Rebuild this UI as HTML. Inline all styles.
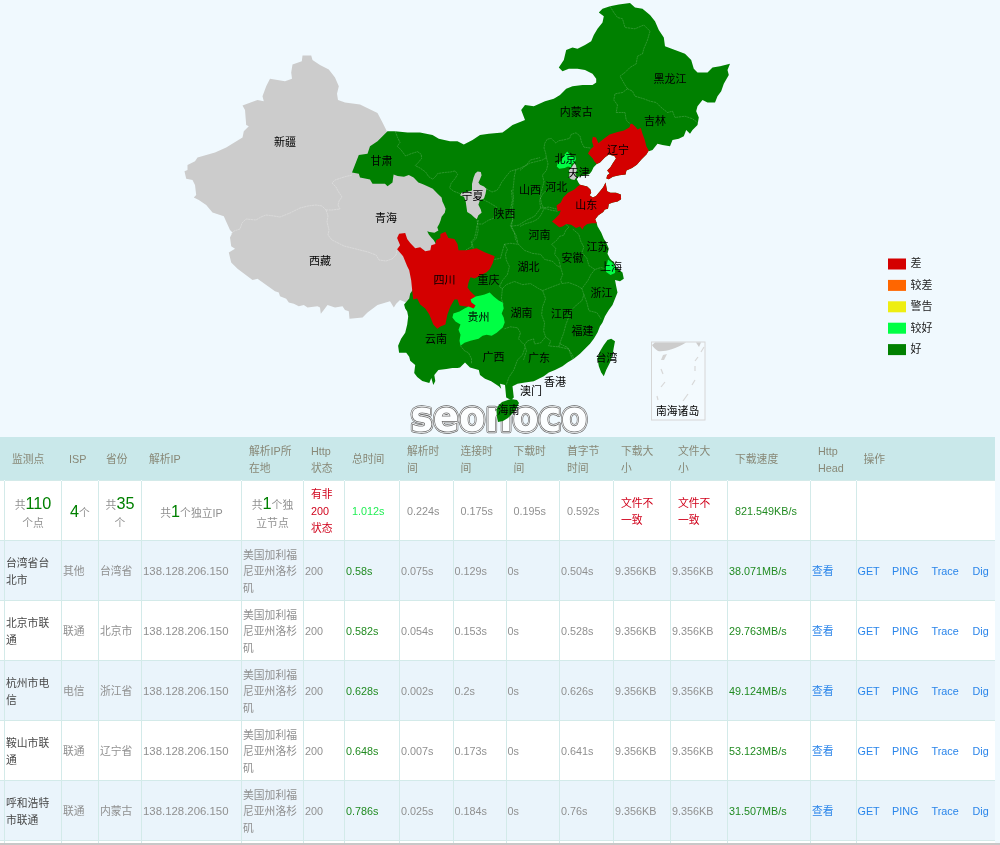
<!DOCTYPE html>
<html lang="zh"><head><meta charset="utf-8"><title>seonoco</title>
<style>
html,body{margin:0;padding:0}
body{width:1000px;height:845px;overflow:hidden;position:relative;background:#f0f9fe;font-family:"Liberation Sans","Noto Sans CJK SC",sans-serif;font-size:10.8px;color:#909090}
svg{position:absolute;left:0;top:0}
svg text{font-family:"Liberation Sans","Noto Sans CJK SC",sans-serif;font-size:11px;fill:#000}
.hb{position:absolute;left:0;top:437px;width:995px;height:43px;background:#c9e8ea}
.rb{position:absolute;left:0;width:995px;height:60px}
table{position:absolute;left:-1px;top:437px;border-collapse:collapse;table-layout:fixed;width:995px}
td,th{border-left:1px solid #d3eae9;border-top:1px solid #d3eae9;padding:0 3px 0 1px;box-sizing:border-box;overflow:hidden;font-weight:normal;text-align:left;line-height:16.75px;vertical-align:middle}
tr.h th:first-child{padding:0}
tr.h th{height:43px;padding:2.5px 7px 0;border-top:none;border-left-color:transparent;color:#888877}
tr.s td{height:60px;text-align:left;padding:3px 7px 0;background:#fff;white-space:nowrap}
tr.s td.c{text-align:center;padding:3px 0 0}
tr.s td.r{text-align:left}
tr.d td{height:60px;background:#fff;padding-top:3.5px}
tr.d.a td{background:#eaf4fb}
b{font-weight:normal;font-size:16.2px;color:#008000;line-height:23px}
.ip{font-size:11.4px}
.r{color:#d0021b} .g{color:#228B22} .lg{color:#22ee55} .n{color:#484848} .l{color:#2a85ea}
.z{padding:0 !important}
.ops span{display:inline-block}
.ops span:nth-child(1){width:34.5px} .ops span:nth-child(2){width:39.5px} .ops span:nth-child(3){width:41px}
.bot{position:absolute;left:0;top:843px;width:1000px;height:2px;background:#c8c8c8}
</style></head><body>
<svg width="1000" height="437" viewBox="0 0 1000 437">
<g>
<text x="410.5" y="431" textLength="177" lengthAdjust="spacingAndGlyphs" style="font-family:'DejaVu Sans',sans-serif;font-weight:bold;font-size:43px;fill:none;stroke:#666;stroke-width:4.4px;stroke-linejoin:round">seonoco</text>
<text x="410.5" y="431" textLength="177" lengthAdjust="spacingAndGlyphs" style="font-family:'DejaVu Sans',sans-serif;font-weight:bold;font-size:43px;fill:none;stroke:#fcfeff;stroke-width:3.0px;stroke-linejoin:round">seonoco</text>
<text x="410.5" y="431" textLength="177" lengthAdjust="spacingAndGlyphs" style="font-family:'DejaVu Sans',sans-serif;font-weight:bold;font-size:43px;fill:none;stroke:#666;stroke-width:1.5px;stroke-linejoin:round">seonoco</text>
<text x="410.5" y="431" textLength="177" lengthAdjust="spacingAndGlyphs" style="font-family:'DejaVu Sans',sans-serif;font-weight:bold;font-size:43px;fill:#fcfeff;stroke:none;stroke-width:0;stroke-linejoin:round">seonoco</text>
</g>
<path fill="#cccccc" d="M302.5,55.5 311.2,55.5 312.5,60.0 320.0,65.0 328.8,69.5 335.0,77.5 338.8,86.2 337.0,93.8 338.0,100.0 345.0,102.5 360.0,104.5 377.5,113.0 382.5,122.5 387.5,132.5 395,150 440,170 462,200 460,260 420,290 410,300 406.2,302.5 400.0,300.0 396.2,303.8 393.8,307.5 390.0,301.2 377.5,305.0 367.5,312.5 362.5,317.5 349.5,318.8 348.8,311.2 345.0,310.0 342.5,306.2 335.0,307.5 327.5,305.0 323.8,310.0 320.8,313.8 320.0,307.5 317.5,306.2 307.5,307.5 303.8,305.0 298.8,306.2 293.8,303.8 288.8,302.5 286.2,298.8 280.0,296.2 278.8,292.5 275.0,291.2 257.5,278.8 252.5,280.0 237.5,268.8 231.2,262.5 228.8,252.5 235.0,248.8 231.2,246.2 230.0,237.5 232.5,232.5 230.0,230.0 223.8,216.2 212.5,212.5 206.2,205.0 198.8,200.0 193.8,197.5 196.2,195.0 195.0,185.0 192.5,180.0 186.2,178.8 184.5,171.2 187.5,170.0 187.5,165.0 195.0,161.2 197.5,157.5 215.0,152.5 226.2,147.5 242.5,137.5 243.8,131.2 248.8,126.2 246.2,125.0 245.0,110.0 242.5,105.5 257.5,100.0 263.8,101.2 262.5,96.2 266.2,86.2 270.0,78.8 285.0,81.2 292.0,78.8 291.2,72.5 292.5,64.5 301.8,61.2Z"/>
<path fill="#008000" d="M382.5,136.2 387.5,131.2 395.0,131.2 407.5,132.5 420.0,132.5 432.5,135.0 438.8,138.8 450.0,141.2 457.5,141.2 463.8,144.5 472.5,140.0 480.0,135.0 488.8,133.8 502.5,132.5 512.5,125.0 518.8,122.5 525.0,120.0 521.2,110.0 525.0,105.0 533.8,106.2 545.0,101.2 553.8,98.8 560.0,95.0 566.2,88.8 572.5,86.2 582.5,85.0 592.5,85.0 596.2,82.5 596.2,78.8 592.5,73.8 585.0,70.0 577.5,68.8 568.8,68.8 562.5,71.2 558.8,67.5 563.8,60.0 566.2,50.0 572.5,47.5 577.5,48.8 585.0,45.0 591.2,41.2 593.8,35.0 597.5,28.8 602.5,22.5 603.8,16.2 598.8,12.5 602.5,8.8 610.0,6.2 618.8,4.5 630.0,3.0 635.0,7.5 642.5,8.8 650.0,15.0 655.0,21.2 658.8,30.0 663.8,37.5 665.0,46.2 675.0,50.0 685.0,53.8 691.2,60.0 693.8,68.8 697.5,72.5 707.5,72.5 712.5,67.5 720.0,66.2 730.0,63.8 727.5,70.0 728.8,75.0 723.8,83.8 721.2,91.2 717.5,96.2 715.0,102.5 707.5,102.5 702.5,100.0 697.5,106.2 696.2,111.2 698.8,117.5 697.5,125.0 692.5,130.0 690.0,133.8 686.2,130.0 683.8,136.2 678.8,138.8 672.5,140.0 670.0,146.2 662.5,145.0 657.5,143.8 652.5,150.0 648.8,151.2 648.8,150.4 646.4,154.4 641.6,159.2 636.8,164.8 632.0,168.0 626.4,170.4 625.6,174.4 619.2,175.2 612.8,176.8 608.8,179.2 606.4,178.4 607.2,175.2 609.6,173.6 607.2,170.4 610.4,167.2 612.8,163.2 616.0,158.4 614.4,156.0 608.8,154.4 604.8,157.6 600.0,162.4 596.8,164.0 593.6,167.2 591.7,171.2 589.6,173.9 584.0,175.5 578.4,176.8 576.8,179.2 578.4,182.4 580.0,184.8 587.2,186.4 590.4,189.6 591.2,192.8 589.6,195.2 592.8,197.6 596.0,196.0 600.0,191.2 603.2,187.2 605.6,182.4 606.4,187.2 607.2,191.2 610.4,192.8 616.0,192.8 620.8,194.4 621.1,199.2 617.6,201.6 612.8,202.4 608.8,204.0 608.0,208.8 604.8,209.6 603.2,212.0 598.4,215.2 595.2,219.2 596.8,223.2 597.5,226.2 601.2,232.5 603.8,238.8 606.2,242.5 608.8,248.8 607.5,253.8 610.0,258.8 613.8,262.5 616.2,267.5 622.5,272.5 623.8,278.8 620.0,281.2 615.0,280.0 616.2,286.2 617.5,292.5 615.0,298.8 612.5,305.0 608.8,310.0 605.0,316.2 602.5,322.5 600.0,326.2 597.5,332.5 593.8,338.8 590.0,343.8 585.0,348.8 580.0,353.8 573.8,358.8 567.5,362.5 562.5,366.2 555.0,370.0 548.8,372.5 543.8,376.2 538.8,378.8 533.8,381.2 525.0,382.5 517.5,383.8 512.5,386.2 513.8,397.5 511.2,400.0 506.2,397.5 505.0,385.0 500.0,383.8 501.2,388.8 498.8,386.2 491.2,381.2 485.0,378.8 480.0,375.0 478.8,370.0 470.0,367.5 465.0,362.5 460.0,367.5 457.5,367.9 452.4,367.9 446.4,368.9 438.4,369.9 434.3,374.9 435.3,381.0 433.3,385.0 431.3,377.9 429.3,383.0 422.3,381.0 417.2,376.9 414.2,372.9 415.2,364.9 410.2,360.8 409.2,356.8 406.2,352.8 399.1,352.8 398.1,345.8 401.1,338.7 405.2,332.7 407.2,324.6 408.2,316.6 407.2,311.5 405.2,308.5 404.1,304.5 409.2,298.5 410.2,293.4 420,280 440,250 436.0,244.0 433.6,240.0 431.2,237.6 428.8,234.4 427.2,231.2 429.6,232.0 434.4,232.8 438.4,230.4 437.3,227.2 439.2,224.0 440.5,220.8 441.6,216.8 444.8,212.8 445.6,208.8 444.0,204.8 442.4,201.6 441.6,197.6 438.4,194.4 435.2,191.2 432.8,188.8 428.0,186.4 422.4,184.0 418.4,182.4 413.6,177.6 408.8,174.9 404.0,176.8 397.6,176.0 393.6,174.4 392.5,182.5 387.5,186.2 385.0,183.8 372.5,183.8 370.0,179.5 360.0,177.5 358.8,173.8 352.0,172.5 358.8,155.0 367.5,153.8 370.0,146.2 377.5,141.2Z"/>
<path fill="#008000" d="M611.2,338.8 615.0,341.2 613.8,347.5 612.5,355.0 610.0,362.5 606.2,370.0 603.8,376.2 601.2,372.5 598.8,366.2 597.5,358.8 600.0,351.2 603.8,345.0 607.5,340.0Z"/>
<path fill="#008000" d="M502.0,402.0 511.0,399.0 517.0,400.0 519.0,403.0 516.0,409.0 513.0,413.0 508.0,418.0 503.0,421.0 498.0,422.0 497.0,417.0 496.4,410.0 498.0,406.0Z"/>
<g fill="none" stroke="#ffffff" stroke-opacity="0.22" stroke-width="0.8" stroke-dasharray="2.2 0.6"><path d="M395.2,131.2 397.6,137.6 400.0,142.4 397.3,146.4 400.8,149.6 405.6,156.0 411.2,153.6 417.6,151.7 421.3,154.4 421.6,158.4 418.4,162.4 415.2,165.6 420.0,168.0 425.6,172.0 428.8,176.8 432.8,179.2 436.0,176.0 437.6,173.6 444.0,172.5 450.4,172.0 455.2,170.9 457.6,174.4 455.2,178.4 451.2,183.2 449.6,188.0 453.6,191.2 460.0,193.6"/><path d="M486.4,188.8 492.0,192.0 496.8,190.4 499.2,187.2 501.6,182.4 506.4,176.0 510.4,171.2 516.0,169.6 520.8,168.0 526.4,164.8 530.4,160.0 540.0,157.6"/><path d="M516.0,169.6 514.4,176.0 513.6,184.0 512.8,192.0 513.6,196.8 512.8,204.8 512.0,212.8 512.8,219.2 510.4,225.6 512.8,230.4 516.0,235.2 517.6,241.6"/><path d="M480.8,198.4 488.8,202.4 496.8,207.2"/><path d="M478.4,220.0 477.6,224.0 482.4,224.0 488.8,220.0 493.6,218.4 496.8,207.2"/><path d="M476.8,225.6 476.0,232.0 474.4,238.4 471.2,241.6 472.0,246.4 466.4,249.6 464.8,251.2"/><path d="M477.2,220.2 478.2,230.2 476.2,238.3 472.2,242.3 473.2,248.4"/><path d="M511.4,190.0 512.4,200.1 510.4,210.1 513.4,216.2 511.4,226.2 514.4,232.3 515.5,239.3 518.5,244.3"/><path d="M511.4,226.2 518.5,225.2 526.5,220.2 534.6,216.2 540.6,208.1 548.7,207.1 556.7,209.1"/><path d="M540.6,208.1 539.6,200.1 542.6,194.0 546.6,190.0"/><path d="M504.4,244.3 510.4,243.3 518.5,244.3 524.5,250.4 532.6,253.4 540.6,254.4 544.6,259.4 552.7,261.4 556.7,265.5 560.7,267.5"/><path d="M494.3,259.4 500.4,258.4 504.4,244.3"/><path d="M504.4,244.3 507.4,249.4 505.4,254.4 506.4,260.4 509.4,266.5 507.4,274.5 502.4,280.5 499.4,286.6 502.4,288.6"/><path d="M502.4,288.6 506.4,284.6 514.4,281.5 522.5,284.6 530.5,283.6 538.6,288.6 542.6,290.6 552.7,286.6 560.7,283.6"/><path d="M560.7,267.5 562.7,274.5 560.7,279.5 561.7,283.6 568.8,282.6 576.8,285.6 581.9,288.6"/><path d="M565.8,224.2 568.8,227.2 565.8,230.2 563.7,235.3 559.7,236.3 556.7,240.3 551.7,244.3 555.7,248.4 554.7,254.4 558.7,259.4 560.7,267.5"/><path d="M572.8,229.2 578.8,234.3 580.8,241.3 583.9,247.3 581.9,252.4 586.9,258.4 588.9,265.5 594.9,269.5 601.0,267.5 607.0,269.5"/><path d="M594.9,269.5 590.9,274.5 587.9,280.5 581.9,288.6 583.9,294.6 581.9,300.7 576.8,304.7 570.8,310.7 568.8,316.8 565.8,324.8 563.7,332.9 560.7,340.9 558.7,346.9"/><path d="M583.9,294.6 586.9,302.7 588.9,310.7 596.9,312.7 601.0,318.8"/><path d="M542.6,290.6 545.6,298.7 542.6,306.7 541.6,314.7 544.6,322.8 543.6,330.8 545.6,336.9 550.7,340.9 548.7,345.9 558.7,346.9 568.8,349.0 570.8,355.0 572.8,360.0"/><path d="M502.4,288.6 501.4,298.7 503.4,304.7"/><path d="M504.4,328.8 510.4,326.8 517.5,327.8 520.5,332.9 518.5,338.9 524.5,344.9 527.5,340.9 533.6,338.9 534.6,343.9 540.6,342.9 545.6,336.9"/><path d="M524.5,344.9 526.5,351.0 523.5,360.0"/><path d="M525.0,347.5 522.5,355.0 517.5,360.0 513.8,370.0 508.8,377.5 506.2,385.0"/><path d="M560.0,343.8 567.5,347.5 572.5,355.0 573.8,358.8"/><path d="M460.5,345.8 464.5,350.8 468.5,352.8 471.5,358.8 471.5,363.9"/><path d="M610.0,6.2 613.8,12.5 617.5,17.5 622.5,18.8 625.0,27.5 635.0,28.8 643.8,25.0 650.0,31.2 647.5,40.0 643.8,48.8 642.5,53.8 637.5,56.2 636.2,63.8 630.0,67.5 625.0,72.5 620.0,76.2 625.0,85.0 627.5,88.8"/><path d="M627.5,88.8 632.5,91.2 635.0,96.2 643.8,98.8 650.0,101.2 656.2,102.5 661.2,107.5 667.5,112.5 672.5,111.2 675.0,117.5 685.0,116.2 692.5,118.8 697.5,122.5"/><path d="M627.5,88.8 622.5,92.5 615.0,93.8 613.8,100.0 617.5,105.0 616.2,112.5 625.0,112.5 626.2,120.0 630.0,123.8"/><path d="M590.4,148.0 584.0,147.2 581.6,142.4 580.0,136.0 576.0,132.8 571.2,134.4 569.6,138.4 563.2,140.0 558.4,140.8 556.0,143.2 551.2,138.4 547.2,139.2 544.8,143.2 544.0,148.0 545.6,152.8 546.4,157.6 542.4,160.0 536.0,161.6 529.6,163.2 524.8,166.4 520.0,170.4"/><path d="M546.4,157.6 548.0,164.0 546.4,170.4 542.4,175.2 544.0,181.6 542.4,188.0 540.0,196.0 541.6,204.0 544.0,208.8 540.8,215.2 537.6,219.2 532.8,221.6 524.8,224.0 520.0,226.4"/><path d="M557.6,211.2 552.0,210.4 546.4,208.8 544.0,208.8"/></g><g fill="none" stroke="#dddddd" stroke-width="0.8" stroke-dasharray="2.2 0.5"><path d="M352.0,175.0 344.0,177.0 335.0,180.0 332.0,183.0 336.0,187.0 338.0,191.0 342.0,197.0 339.0,201.0 338.0,205.0 340.0,209.0 332.0,210.0 326.0,210.0"/><path d="M326.0,210.0 322.0,206.0 316.0,205.0 308.0,206.0 300.0,208.0 296.0,210.0 290.0,213.0 280.0,217.0 274.0,216.0 266.0,215.0 261.0,217.0 256.0,220.0 246.0,219.0 242.0,223.0 240.0,229.0 234.0,231.0 231.0,234.0"/><path d="M326.0,210.0 328.0,216.0 327.0,222.0 329.0,230.0 328.0,235.0 332.0,240.0 338.0,243.0 344.0,246.0 352.0,248.0 360.0,250.0 368.0,252.0 376.0,255.0 379.0,260.0 386.0,261.0 392.0,259.0 396.0,255.0 397.0,250.0"/></g>
<path fill="#d40000" d="M399.1,233.7 405.2,233.1 407.2,239.1 410.2,243.1 415.2,248.2 420.2,247.2 425.3,251.2 430.3,250.2 431.3,245.2 435.3,244.1 436.3,240.1 440.4,238.1 440.4,234.1 445.4,231.7 448.4,238.1 454.4,239.1 457.5,244.1 458.5,250.2 466.5,250.2 476.6,248.2 484.6,252.2 494.7,256.2 492.7,263.3 489.7,269.3 486.6,272.3 480.6,275.3 474.6,278.4 470.5,277.3 468.5,282.4 467.5,287.4 470.5,291.4 475.6,296.5 470.5,299.5 471.5,302.5 475.6,305.5 473.6,308.5 466.5,306.5 459.5,305.5 457.5,299.5 454.4,299.5 450.4,306.5 447.4,314.6 445.4,324.6 440.4,326.6 437.3,328.7 433.3,324.6 429.3,314.6 425.3,308.5 420.2,304.5 417.2,298.5 413.2,299.5 412.2,290.4 411.2,280.4 409.2,270.3 407.2,266.3 403.1,256.2 397.1,249.2 400.1,245.2 397.1,238.1Z"/>
<path fill="#d40000" d="M632.0,123.7 635.2,126.4 637.6,129.6 640.8,128.0 642.4,133.6 644.8,140.0 646.4,146.4 648.8,150.4 646.4,154.4 641.6,159.2 636.8,164.8 632.0,168.0 626.4,170.4 625.6,174.4 619.2,175.2 612.8,176.8 608.8,179.2 606.4,178.4 607.2,175.2 609.6,173.6 607.2,170.4 610.4,167.2 612.8,163.2 616.0,158.4 614.4,156.0 608.8,154.4 604.8,157.6 600.0,162.4 596.8,164.0 594.4,161.6 592.8,158.4 588.0,153.6 590.4,149.6 593.6,146.4 592.0,141.6 592.8,136.8 596.0,137.6 598.4,143.2 603.2,139.2 609.6,134.4 617.6,132.0 624.0,130.4 629.6,127.2 630.4,124.0Z"/>
<path fill="#d40000" d="M580.0,184.8 587.2,186.4 590.4,189.6 591.2,192.8 589.6,195.2 592.8,197.6 596.0,196.0 600.0,191.2 603.2,187.2 605.6,182.4 606.4,187.2 607.2,191.2 610.4,192.8 616.0,192.8 620.8,194.4 621.1,199.2 617.6,201.6 612.8,202.4 608.8,204.0 608.0,208.8 604.8,209.6 603.2,212.0 598.4,215.2 595.2,219.2 596.8,223.2 592.0,223.2 587.2,224.0 584.0,226.4 582.4,229.6 580.0,226.4 576.0,228.0 571.2,224.8 566.4,224.0 562.4,226.4 559.2,227.2 555.2,224.0 552.0,221.6 555.2,218.4 559.2,214.4 560.8,210.4 557.6,211.2 556.5,205.6 560.8,202.4 563.2,197.6 568.0,192.8 574.4,189.6 577.6,186.4Z"/>
<path fill="#00ff44" d="M489.7,292.4 493.7,296.5 498.7,300.5 502.7,302.5 503.7,308.5 501.7,313.6 503.7,317.6 504.7,322.6 502.7,327.6 496.7,332.7 491.7,335.7 486.6,334.7 482.6,335.7 478.6,338.7 470.5,340.7 464.5,342.7 460.5,345.8 459.5,340.7 460.5,334.7 458.5,329.7 460.5,324.6 455.5,321.6 452.4,317.6 453.4,313.6 459.5,311.5 464.5,308.5 468.5,306.5 473.6,308.5 475.6,305.5 471.5,302.5 470.5,299.5 475.6,296.5 480.6,295.5 484.6,294.4Z"/>
<path fill="#00ff44" d="M567.2,151.5 569.6,154.4 571.2,156.8 575.2,156.0 576.0,159.2 574.4,162.4 571.2,164.0 571.2,167.2 568.0,166.4 564.8,168.0 559.2,168.8 556.8,166.4 557.6,163.2 561.6,160.8 563.2,156.0 565.6,153.6Z"/>
<path fill="#00ff44" d="M608.0,259.5 612.0,262.5 615.5,267.0 615.0,273.0 610.5,275.0 606.2,272.0 605.5,267.5 607.0,263.8Z"/>
<path fill="#cccccc" d="M477.6,171.5 480.8,172.0 481.6,175.2 480.0,179.2 478.4,182.4 480.0,184.8 484.0,186.4 486.4,188.8 485.6,193.6 484.0,198.4 480.0,200.0 478.4,204.8 480.8,209.6 481.6,212.8 478.4,215.2 476.8,219.2 474.4,217.6 471.2,214.4 467.2,212.0 466.4,206.4 465.6,200.8 464.0,196.8 460.0,195.2 461.6,192.8 466.4,192.0 472.0,190.4 472.0,184.0 473.6,177.6 475.2,173.6Z"/>
<path fill="#cccccc" d="M574.4,163.2 576.0,165.6 576.8,170.4 575.2,173.6 576.8,176.8 574.4,180.0 571.2,179.2 568.8,177.6 569.6,173.6 568.8,170.4 571.2,168.0 572.8,165.6Z"/>
<g><text x="285" y="146.0" text-anchor="middle">新疆</text><text x="381.5" y="164.7" text-anchor="middle">甘肃</text><text x="386" y="221.5" text-anchor="middle">青海</text><text x="320" y="265.0" text-anchor="middle">西藏</text><text x="576.25" y="115.5" text-anchor="middle">内蒙古</text><text x="472.5" y="199.5" text-anchor="middle">宁夏</text><text x="530" y="193.75" text-anchor="middle">山西</text><text x="556.25" y="190.5" text-anchor="middle">河北</text><text x="565.5" y="163.25" text-anchor="middle">北京</text><text x="578.75" y="177.0" text-anchor="middle">天津</text><text x="618" y="153.75" text-anchor="middle">辽宁</text><text x="586.25" y="209.25" text-anchor="middle">山东</text><text x="504.5" y="218.0" text-anchor="middle">陕西</text><text x="539.5" y="239.0" text-anchor="middle">河南</text><text x="597.5" y="251.0" text-anchor="middle">江苏</text><text x="572.5" y="262.0" text-anchor="middle">安徽</text><text x="611" y="270.5" text-anchor="middle">上海</text><text x="528.5" y="271.0" text-anchor="middle">湖北</text><text x="444.5" y="283.5" text-anchor="middle">四川</text><text x="488.5" y="283.5" text-anchor="middle">重庆</text><text x="601.5" y="297.0" text-anchor="middle">浙江</text><text x="478.5" y="321.0" text-anchor="middle">贵州</text><text x="521.5" y="317.0" text-anchor="middle">湖南</text><text x="562" y="318.0" text-anchor="middle">江西</text><text x="582.5" y="334.5" text-anchor="middle">福建</text><text x="436" y="343.0" text-anchor="middle">云南</text><text x="493.5" y="361.0" text-anchor="middle">广西</text><text x="539" y="362.0" text-anchor="middle">广东</text><text x="606.5" y="362.0" text-anchor="middle">台湾</text><text x="555" y="386.0" text-anchor="middle">香港</text><text x="531" y="394.5" text-anchor="middle">澳门</text><text x="508.5" y="413.5" text-anchor="middle">海南</text><text x="670" y="83.25" text-anchor="middle">黑龙江</text><text x="655" y="125.0" text-anchor="middle">吉林</text></g>
<rect x="651.5" y="342" width="53.5" height="78" fill="#f3fafe" stroke="#d6d6d6" stroke-width="1"/>
<path fill="#cccccc" d="M652,345 L655,342.5 L686,342.5 C676,349 664,352 658,351 C655,349 653,347 652,345Z M696,342.5 L701,342.5 L699,347Z"/>
<path fill="#d4d4d4" d="M663,355 L667,354 L664,360 L661,360Z"/>
<g stroke="#d8d8d8" stroke-width="1.2" fill="none"><path d="M704,347 L701,352 M698,357 L695,361 M695,366 L695,371 M695,380 L692,385 M688,394 L683,401 M665,382 L661,387 M661,369 L663,374 M657,396 L658,400"/></g>
<text x="677.6" y="415.3" text-anchor="middle" style="font-size:10.8px">南海诸岛</text>
<g style="font-size:11px"><rect x="888" y="258.5" width="18" height="11" fill="#d40000"/><text x="910.5" y="267.3" style="fill:#222">差</text><rect x="888" y="279.9" width="18" height="11" fill="#ff6600"/><text x="910.5" y="288.7" style="fill:#222">较差</text><rect x="888" y="301.3" width="18" height="11" fill="#eeee11"/><text x="910.5" y="310.1" style="fill:#222">警告</text><rect x="888" y="322.7" width="18" height="11" fill="#00ff44"/><text x="910.5" y="331.5" style="fill:#222">较好</text><rect x="888" y="344.1" width="18" height="11" fill="#008000"/><text x="910.5" y="352.9" style="fill:#222">好</text></g>

</svg>
<div class="hb"></div>
<table><colgroup><col style="width:5px"><col style="width:57px"><col style="width:37px"><col style="width:43px"><col style="width:100px"><col style="width:62px"><col style="width:41px"><col style="width:55px"><col style="width:53.5px"><col style="width:53px"><col style="width:53.5px"><col style="width:54px"><col style="width:57px"><col style="width:57px"><col style="width:83px"><col style="width:45.5px"><col style="width:138.5px"></colgroup>
<tr class='h'><th></th><th>监测点</th><th>ISP</th><th>省份</th><th>解析IP</th><th>解析IP所在地</th><th>Http状态</th><th>总时间</th><th>解析时间</th><th>连接时间</th><th>下载时间</th><th>首字节时间</th><th>下载大小</th><th>文件大小</th><th>下载速度</th><th>Http Head</th><th>操作</th></tr><tr class='s'><td class='z'></td><td class='c'>共<b>110</b><br>个点</td><td class='c'><b>4</b>个</td><td class='c'>共<b>35</b><br>个</td><td class='c'>共<b>1</b>个独立IP</td><td class='c'>共<b>1</b>个独<br>立节点</td><td class='r'>有非<br>200<br>状态</td><td class='lg'>1.012s</td><td>0.224s</td><td>0.175s</td><td>0.195s</td><td>0.592s</td><td class='r'>文件不<br>一致</td><td class='r'>文件不<br>一致</td><td class='g'>821.549KB/s</td><td></td><td></td></tr><tr class='d a'><td class='z'></td><td class='n'>台湾省台北市</td><td>其他</td><td>台湾省</td><td class='ip'>138.128.206.150</td><td>美国加利福尼亚州洛杉矶</td><td>200</td><td class='g'>0.58s</td><td>0.075s</td><td>0.129s</td><td>0s</td><td>0.504s</td><td>9.356KB</td><td>9.356KB</td><td class='g'>38.071MB/s</td><td class='l'>查看</td><td class='l ops'><span>GET</span><span>PING</span><span>Trace</span><span>Dig</span></td></tr><tr class='d '><td class='z'></td><td class='n'>北京市联通</td><td>联通</td><td>北京市</td><td class='ip'>138.128.206.150</td><td>美国加利福尼亚州洛杉矶</td><td>200</td><td class='g'>0.582s</td><td>0.054s</td><td>0.153s</td><td>0s</td><td>0.528s</td><td>9.356KB</td><td>9.356KB</td><td class='g'>29.763MB/s</td><td class='l'>查看</td><td class='l ops'><span>GET</span><span>PING</span><span>Trace</span><span>Dig</span></td></tr><tr class='d a'><td class='z'></td><td class='n'>杭州市电信</td><td>电信</td><td>浙江省</td><td class='ip'>138.128.206.150</td><td>美国加利福尼亚州洛杉矶</td><td>200</td><td class='g'>0.628s</td><td>0.002s</td><td>0.2s</td><td>0s</td><td>0.626s</td><td>9.356KB</td><td>9.356KB</td><td class='g'>49.124MB/s</td><td class='l'>查看</td><td class='l ops'><span>GET</span><span>PING</span><span>Trace</span><span>Dig</span></td></tr><tr class='d '><td class='z'></td><td class='n'>鞍山市联通</td><td>联通</td><td>辽宁省</td><td class='ip'>138.128.206.150</td><td>美国加利福尼亚州洛杉矶</td><td>200</td><td class='g'>0.648s</td><td>0.007s</td><td>0.173s</td><td>0s</td><td>0.641s</td><td>9.356KB</td><td>9.356KB</td><td class='g'>53.123MB/s</td><td class='l'>查看</td><td class='l ops'><span>GET</span><span>PING</span><span>Trace</span><span>Dig</span></td></tr><tr class='d a'><td class='z'></td><td class='n'>呼和浩特市联通</td><td>联通</td><td>内蒙古</td><td class='ip'>138.128.206.150</td><td>美国加利福尼亚州洛杉矶</td><td>200</td><td class='g'>0.786s</td><td>0.025s</td><td>0.184s</td><td>0s</td><td>0.76s</td><td>9.356KB</td><td>9.356KB</td><td class='g'>31.507MB/s</td><td class='l'>查看</td><td class='l ops'><span>GET</span><span>PING</span><span>Trace</span><span>Dig</span></td></tr><tr class='d'><td></td><td></td><td></td><td></td><td></td><td></td><td></td><td></td><td></td><td></td><td></td><td></td><td></td><td></td><td></td><td></td><td></td></tr>
</table>
<div class="bot"></div>
</body></html>
